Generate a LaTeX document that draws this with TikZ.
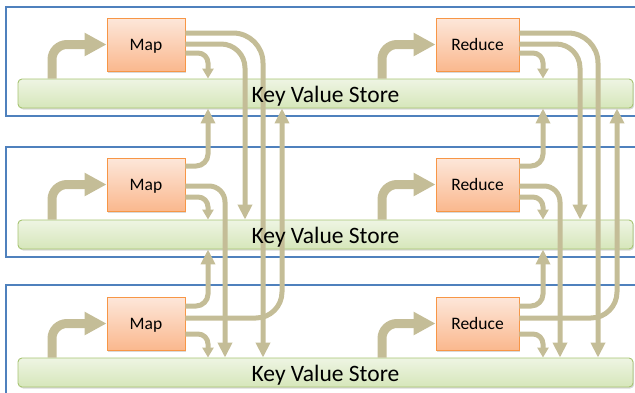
\documentclass[tikz,border=0pt]{standalone}
\usepackage{fontspec}
\setmainfont{Carlito}
\usetikzlibrary{calc, shadows, arrows.meta}
\definecolor{tierblue}{HTML}{4F81BD}
\definecolor{flowtan}{HTML}{C4BD97}
\definecolor{taskedge}{HTML}{F79646}
\definecolor{tasktop}{HTML}{FDE7DA}
\definecolor{taskbot}{HTML}{FAB88E}
\definecolor{storeedge}{HTML}{A7C472}
\definecolor{storetop}{HTML}{EEF5E3}
\definecolor{storebot}{HTML}{D6E6BA}

\begin{document}
\begin{tikzpicture}[x=1pt, y=-1pt,
	tierframe/.style={draw=tierblue, line width=2pt},
	task/.style={draw=taskedge, line width=0.9pt, top color=tasktop, bottom color=taskbot,
		minimum height=53pt, inner sep=0pt, text height=11pt, text depth=0pt,
		font=\fontsize{17.5}{20}\selectfont,
		drop shadow={opacity=0.3, shadow xshift=1.2pt, shadow yshift=-1.5pt}},
	store/.style={draw=storeedge, line width=0.9pt, top color=storetop, bottom color=storebot,
		rounded corners=4pt, minimum width=615pt, minimum height=29pt, inner sep=0pt,
		drop shadow={opacity=0.3, shadow xshift=1.2pt, shadow yshift=-1.5pt}},
	storetext/.style={font=\fontsize{23.5}{27}\selectfont, inner sep=0pt, anchor=base},
	feed/.style={draw=flowtan, line width=9pt, rounded corners=15pt, -{Triangle[width=22pt,length=22pt]}},
	flow/.style={draw=flowtan, line width=5pt, -{Triangle[width=14pt,length=15pt]}},
	own/.style={draw=flowtan, line width=5pt, rounded corners=10pt, -{Triangle[width=11pt,length=10pt]}}]
	\clip (0,0) rectangle (635,392);
	\draw [tierframe] (5.5,7) rectangle (650,116);
	\draw [tierframe] (5.5,147) rectangle (650,257);
	\draw [tierframe] (5.5,285) rectangle (650,410);
	\node [store] (kvs1) at (325.5,93.5) {};
	\node [store] (kvs2) at (325.5,234.5) {};
	\node [store] (kvs3) at (325.5,372.5) {};
	\node [task, minimum width=78pt] (map1) at (146,44.5) {Map};
	\node [task, minimum width=78pt] (map2) at (146,184.5) {Map};
	\node [task, minimum width=78pt] (map3) at (146,323.5) {Map};
	\node [task, minimum width=83pt] (red1) at (477.5,44.5) {Reduce};
	\node [task, minimum width=83pt] (red2) at (477.5,184.5) {Reduce};
	\node [task, minimum width=83pt] (red3) at (477.5,323.5) {Reduce};
	\draw [feed] (52,0 |- kvs1.north) |- (map1.west);
	\draw [feed] (52,0 |- kvs2.north) |- (map2.west);
	\draw [feed] (52,0 |- kvs3.north) |- (map3.west);
	\draw [feed] (382,0 |- kvs1.north) |- (red1.west);
	\draw [feed] (382,0 |- kvs2.north) |- (red2.west);
	\draw [feed] (382,0 |- kvs3.north) |- (red3.west);
	\draw [flow, rounded corners=30pt] (map1.east |- 0,33) -| (263,0 |- kvs3.north);
	\draw [flow, rounded corners=24pt] (map1.east |- 0,44) -| (245,0 |- kvs2.north);
	\draw [own] (map1.east |- 0,53) -| (208,0 |- kvs1.north);
	\draw [flow, rounded corners=12pt] (map2.east |- 0,166) -| (208,0 |- kvs1.south);
	\draw [flow, rounded corners=16pt] (map2.east |- 0,186) -| (225,0 |- kvs3.north);
	\draw [own] (map2.east |- 0,197) -| (208,0 |- kvs2.north);
	\draw [flow, rounded corners=12pt] (map3.east |- 0,306) -| (208,0 |- kvs2.south);
	\draw [flow, rounded corners=26pt] (map3.east |- 0,318) -| (282,0 |- kvs1.south);
	\draw [own] (map3.east |- 0,334) -| (208,0 |- kvs3.north);
	\draw [flow, rounded corners=30pt] (red1.east |- 0,33) -| (598,0 |- kvs3.north);
	\draw [flow, rounded corners=24pt] (red1.east |- 0,44) -| (580,0 |- kvs2.north);
	\draw [own] (red1.east |- 0,53) -| (543,0 |- kvs1.north);
	\draw [flow, rounded corners=12pt] (red2.east |- 0,166) -| (543,0 |- kvs1.south);
	\draw [flow, rounded corners=16pt] (red2.east |- 0,186) -| (560,0 |- kvs3.north);
	\draw [own] (red2.east |- 0,197) -| (543,0 |- kvs2.north);
	\draw [flow, rounded corners=12pt] (red3.east |- 0,306) -| (543,0 |- kvs2.south);
	\draw [flow, rounded corners=26pt] (red3.east |- 0,318) -| (617,0 |- kvs1.south);
	\draw [own] (red3.east |- 0,334) -| (543,0 |- kvs3.north);
	\node [storetext] (kvs1text) at ($(kvs1)+(0,8.5)$) {Key Value Store};
	\node [storetext] (kvs2text) at ($(kvs2)+(0,8.5)$) {Key Value Store};
	\node [storetext] (kvs3text) at ($(kvs3)+(0,8.5)$) {Key Value Store};
\end{tikzpicture}
\end{document}
